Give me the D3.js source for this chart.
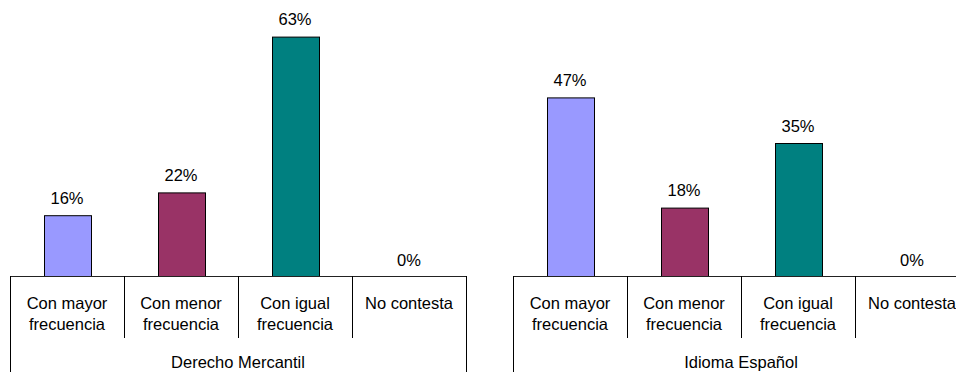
<!DOCTYPE html>
<html>
<head>
<meta charset="utf-8">
<script src="https://cdn.jsdelivr.net/npm/d3@7"></script>
<style>
  html, body { margin: 0; padding: 0; background: #fff; }
  svg { display: block; }
  text { font-family: "Liberation Sans", Arial, sans-serif; fill: #000; }
</style>
</head>
<body>
<svg id="chart" width="956" height="372"></svg>
<script>
const categories = ["Con mayor frecuencia", "Con menor frecuencia", "Con igual frecuencia", "No contesta"];
const categoryLines = [["Con mayor", "frecuencia"], ["Con menor", "frecuencia"], ["Con igual", "frecuencia"], ["No contesta"]];
const groups = ["Derecho Mercantil", "Idioma Español"];
const valuesMercantil = [16, 22, 63, 0];
const valuesEspanol = [47, 18, 35, 0];
const barColors = ["#9999FF", "#993366", "#008080", "#FFFFC0"];

const svg = d3.select("#chart");
const axisY = 276;
const y = d3.scaleLinear().domain([0, 100]).range([axisY, axisY - 380]);

function drawPanel(x0, groupName, values) {
  const x = d3.scaleBand().domain(categories).range([x0, x0 + 456]).padding(0);
  const bw = x.bandwidth();
  const barW = 47;
  const g = svg.append("g");

  // bars
  g.selectAll("rect.bar").data(categories).enter().append("rect")
    .attr("class", "bar")
    .attr("x", c => Math.round(x(c) + (bw - barW) / 2) + 0.5)
    .attr("y", (c, i) => y(values[i]) + 0.5)
    .attr("width", barW)
    .attr("height", (c, i) => Math.max(0, y(0) - y(values[i])))
    .attr("fill", (c, i) => barColors[i])
    .attr("stroke", "#000")
    .attr("stroke-width", 1)
    .style("display", (c, i) => values[i] > 0 ? null : "none");

  // value labels
  g.selectAll("text.val").data(categories).enter().append("text")
    .attr("class", "val")
    .attr("x", c => x(c) + bw / 2)
    .attr("y", (c, i) => y(values[i]) - (values[i] > 0 ? 11.5 : 10))
    .attr("text-anchor", "middle")
    .style("font-size", "16.5px")
    .text((c, i) => values[i] + "%");

  // axis line
  g.append("line")
    .attr("x1", x0).attr("x2", x0 + 456)
    .attr("y1", axisY + 0.5).attr("y2", axisY + 0.5)
    .attr("stroke", "#222").attr("stroke-width", 1);

  // category dividers
  const bounds = categories.map(c => x(c)).concat([x0 + 456]);
  bounds.forEach((bx, i) => {
    const outer = (i === 0 || i === bounds.length - 1);
    g.append("line")
      .attr("x1", Math.round(bx) + 0.5).attr("x2", Math.round(bx) + 0.5)
      .attr("y1", axisY).attr("y2", outer ? 372 : 338)
      .attr("stroke", "#000").attr("stroke-width", 1);
  });

  // category labels
  categories.forEach((c, i) => {
    const t = g.append("text")
      .attr("x", x(c) + bw / 2)
      .attr("y", 309)
      .attr("text-anchor", "middle")
      .style("font-size", "16.5px");
    categoryLines[i].forEach((ln, j) => {
      t.append("tspan").attr("x", x(c) + bw / 2).attr("y", 309 + j * 21).text(ln);
    });
  });

  // group label
  g.append("text")
    .attr("x", x0 + 228)
    .attr("y", 368)
    .attr("text-anchor", "middle")
    .style("font-size", "16.5px")
    .text(groupName);
}

drawPanel(10, groups[0], valuesMercantil);
drawPanel(513, groups[1], valuesEspanol);
</script>
</body>
</html>
